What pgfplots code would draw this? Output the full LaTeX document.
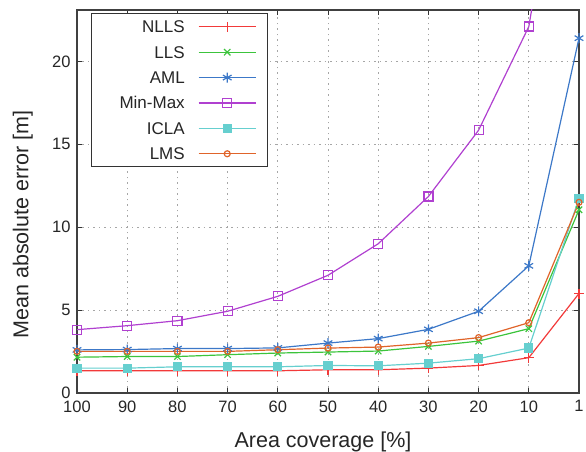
\documentclass[border=0pt]{standalone}
\usepackage{fontspec}
\setmainfont{Liberation Sans}
\usepackage{pgfplots}
\pgfplotsset{compat=1.18}
\definecolor{cNLLS}{HTML}{F23A3A}
\definecolor{cLLS}{HTML}{3CC43C}
\definecolor{cAML}{HTML}{3C78C8}
\definecolor{cMM}{HTML}{B040D0}
\definecolor{cICLA}{HTML}{66CFCF}
\definecolor{cLMS}{HTML}{E0642A}
\begin{document}
\begin{tikzpicture}
\useasboundingbox (-77pt,-59pt) rectangle (509pt,393pt);
\begin{axis}[
  at={(0,0)}, anchor=south west,
  scale only axis,
  width=502pt, height=383pt,
  xmin=0, xmax=10, ymin=0, ymax=23.1,
  xtick={0,...,10},
  xticklabels={100,90,80,70,60,50,40,30,20,10,1},
  ytick={0,5,10,15,20},
  tick align=inside,
  major tick length=5pt,
  tick style={black!80, line width=0.8pt},
  axis line style={black!75, line width=1.1pt},
  grid=major,
  major grid style={gray!70, line width=0.9pt, dash pattern=on 1.5pt off 4pt},
  ticklabel style={font=\fontsize{16.5}{18}\selectfont, text=black!85},
  xticklabel style={yshift=-4pt},
  yticklabel style={xshift=-3pt},
  /pgf/number format/assume math mode=true,
  xlabel={Area coverage [\%]},
  ylabel={Mean absolute error [m]},
  label style={font=\fontsize{21.5}{24}\selectfont, text=black!85},
  xlabel style={at={(axis description cs:0.49,0)}, anchor=base, yshift=-54pt},
  ylabel style={at={(axis description cs:-0.108,0.44)}, anchor=center},
  legend style={at={(0.028,0.992)}, anchor=north west, draw=black!80, line width=1pt, fill=white,
    font=\fontsize{17}{20}\selectfont, text=black!85, row sep=0pt, column sep=0pt,
    inner xsep=0pt, inner ysep=0.5pt,
    nodes={inner sep=0pt, text height=18.7pt, text depth=6.7pt}},
  legend cell align=right,
  legend plot pos=right,
  legend image code/.code={
    \path[draw=none, fill=none] (-14pt,0pt) -- (69pt,0pt);
    \draw[mark repeat=2,mark phase=2] plot coordinates {(0pt,0pt)(28.5pt,0pt)(57pt,0pt)};
  },
]
\addplot[color=cNLLS, line width=1.2pt, mark=+, mark size=5pt, mark options={solid}] coordinates {
(0,1.34)(1,1.34)(2,1.34)(3,1.34)(4,1.34)(5,1.4)(6,1.4)(7,1.5)(8,1.66)(9,2.13)(10,6.0)};
\addlegendentry{NLLS}
\addplot[color=cLLS, line width=1.2pt, mark=x, mark size=4.5pt] coordinates {
(0,2.16)(1,2.2)(2,2.2)(3,2.31)(4,2.41)(5,2.47)(6,2.53)(7,2.81)(8,3.13)(9,3.88)(10,11.05)};
\addlegendentry{LLS}
\addplot[color=cAML, line width=1.2pt, mark=asterisk, mark size=5pt] coordinates {
(0,2.6)(1,2.62)(2,2.68)(3,2.68)(4,2.72)(5,3.01)(6,3.28)(7,3.84)(8,4.93)(9,7.67)(10,21.4)};
\addlegendentry{AML}
\addplot[color=cMM, line width=1.2pt, mark=square, mark size=4.5pt] coordinates {
(0,3.82)(1,4.06)(2,4.36)(3,4.93)(4,5.83)(5,7.1)(6,9.0)(7,11.85)(8,15.85)(9,22.1)(10,40)};
\addlegendentry{\hspace*{28pt}Min-Max}
\addplot[color=cICLA, line width=1.2pt, mark=square*, mark size=4pt] coordinates {
(0,1.5)(1,1.5)(2,1.58)(3,1.58)(4,1.58)(5,1.66)(6,1.64)(7,1.8)(8,2.07)(9,2.71)(10,11.74)};
\addlegendentry{ICLA}
\addplot[color=cLMS, line width=1.2pt, mark=o, mark size=3pt] coordinates {
(0,2.51)(1,2.51)(2,2.51)(3,2.51)(4,2.61)(5,2.71)(6,2.77)(7,3.01)(8,3.34)(9,4.24)(10,11.5)};
\addlegendentry{LMS}
\end{axis}
\end{tikzpicture}
\end{document}
